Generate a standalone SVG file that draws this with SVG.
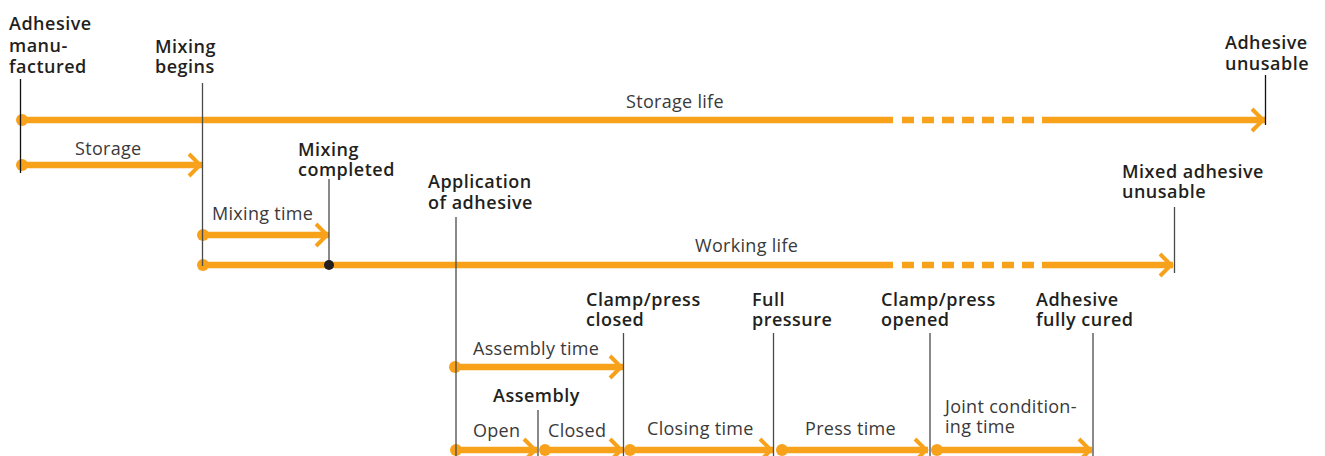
<svg xmlns="http://www.w3.org/2000/svg" width="1325" height="456" viewBox="0 0 1325 456">
<style>
.bg{fill:#ffffff}
.b{font-family:"Open Sans","Noto Sans","Liberation Sans",sans-serif;font-size:18px;font-weight:600;fill:#231f20;letter-spacing:0.5px}
.r{font-family:"Open Sans","Noto Sans","Liberation Sans",sans-serif;font-size:18px;font-weight:400;fill:#3a3a3a;letter-spacing:0.3px}
.ln{stroke:#F8A21C;stroke-width:6.5;fill:none}
.dash{stroke:#F8A21C;stroke-width:6.5;fill:none;stroke-dasharray:12 8}
.dot{fill:#F8A21C}
.tick{stroke:#4a4a4a;stroke-width:1.3;fill:none}
.tickk{stroke:#111;stroke-width:1.3;fill:none}
</style>
<defs>
<marker id="ah" markerUnits="userSpaceOnUse" markerWidth="30" markerHeight="30" viewBox="-15 -15 30 30" refX="0" refY="0" orient="auto" overflow="visible">
<path d="M-13,-11 L-2,0 L-13,11" stroke="#F8A21C" stroke-width="4" fill="none"/>
</marker>
</defs>
<rect class="bg" x="0" y="0" width="1325" height="456"/>

<g id="connectors">
<!-- Storage life -->
<line class="ln" x1="22" y1="120" x2="893" y2="120"/>
<line class="dash" x1="902" y1="120" x2="1036" y2="120"/>
<line class="ln" x1="1042" y1="120" x2="1265" y2="120" marker-end="url(#ah)"/>
<circle class="dot" cx="22" cy="120" r="6"/>
<!-- Storage -->
<line class="ln" x1="22" y1="165" x2="202" y2="165" marker-end="url(#ah)"/>
<circle class="dot" cx="22" cy="165" r="6"/>
<!-- Mixing time -->
<line class="ln" x1="203" y1="235" x2="329" y2="235" marker-end="url(#ah)"/>
<circle class="dot" cx="203" cy="235" r="6"/>
<!-- Working life -->
<line class="ln" x1="203" y1="265" x2="893" y2="265"/>
<line class="dash" x1="902" y1="265" x2="1036" y2="265"/>
<line class="ln" x1="1042" y1="265" x2="1173" y2="265" marker-end="url(#ah)"/>
<circle class="dot" cx="203" cy="265" r="6"/>
<!-- Assembly time -->
<line class="ln" x1="455" y1="367" x2="623" y2="367" marker-end="url(#ah)"/>
<circle class="dot" cx="455" cy="367" r="6"/>
<!-- Open -->
<line class="ln" x1="456" y1="450" x2="537" y2="450" marker-end="url(#ah)"/>
<circle class="dot" cx="456" cy="450" r="6"/>
<!-- Closed -->
<line class="ln" x1="545" y1="450" x2="623" y2="450" marker-end="url(#ah)"/>
<circle class="dot" cx="545" cy="450" r="6"/>
<!-- Closing time -->
<line class="ln" x1="630" y1="450" x2="773" y2="450" marker-end="url(#ah)"/>
<circle class="dot" cx="630" cy="450" r="6"/>
<!-- Press time -->
<line class="ln" x1="782" y1="450" x2="928" y2="450" marker-end="url(#ah)"/>
<circle class="dot" cx="782" cy="450" r="6"/>
<!-- Joint conditioning time -->
<line class="ln" x1="937" y1="450" x2="1092" y2="450" marker-end="url(#ah)"/>
<circle class="dot" cx="937" cy="450" r="6"/>
</g>

<g id="adhesive-manufactured">
<line class="tickk" x1="20.5" y1="79" x2="20.5" y2="173"/>
<text class="b" x="9" y="30">Adhesive<tspan x="9" y="51.5">manu-</tspan><tspan x="9" y="73">factured</tspan></text>
</g>
<g id="mixing-begins">
<line class="tick" x1="202.5" y1="83" x2="202.5" y2="266"/>
<text class="b" x="155" y="52.5">Mixing<tspan x="155" y="73">begins</tspan></text>
</g>
<g id="adhesive-unusable">
<line class="tickk" x1="1265.5" y1="75" x2="1265.5" y2="125"/>
<text class="b" x="1225" y="49">Adhesive<tspan x="1225" y="70">unusable</tspan></text>
</g>
<g id="mixing-completed">
<line class="tick" x1="329" y1="179" x2="329" y2="265"/>
<circle cx="329" cy="265" r="5" fill="#231f20"/>
<text class="b" x="298" y="156">Mixing<tspan x="298" y="176">completed</tspan></text>
</g>
<g id="application">
<line class="tick" x1="456" y1="217" x2="456" y2="456"/>
<text class="b" x="428" y="188">Application<tspan x="428" y="208.5">of adhesive</tspan></text>
</g>
<g id="mixed-unusable">
<line class="tick" x1="1174.5" y1="207" x2="1174.5" y2="273"/>
<text class="b" x="1122" y="178">Mixed adhesive<tspan x="1122" y="198">unusable</tspan></text>
</g>
<g id="clamp-closed">
<line class="tick" x1="623.5" y1="333" x2="623.5" y2="456"/>
<text class="b" x="586" y="306">Clamp/press<tspan x="586" y="326">closed</tspan></text>
</g>
<g id="full-pressure">
<line class="tick" x1="773.5" y1="333" x2="773.5" y2="456"/>
<text class="b" x="752" y="306">Full<tspan x="752" y="326">pressure</tspan></text>
</g>
<g id="clamp-opened">
<line class="tick" x1="930" y1="333" x2="930" y2="456"/>
<text class="b" x="881" y="306">Clamp/press<tspan x="881" y="326">opened</tspan></text>
</g>
<g id="fully-cured">
<line class="tick" x1="1093" y1="333" x2="1093" y2="456"/>
<text class="b" x="1036" y="306">Adhesive<tspan x="1036" y="326">fully cured</tspan></text>
</g>
<g id="assembly">
<line class="tick" x1="538" y1="410" x2="538" y2="456"/>
<text class="b" x="493" y="402">Assembly</text>
</g>

<g id="labels">
<text class="r" x="626" y="108">Storage life</text>
<text class="r" x="75" y="155">Storage</text>
<text class="r" x="212" y="220">Mixing time</text>
<text class="r" x="695" y="252">Working life</text>
<text class="r" x="473" y="355">Assembly time</text>
<text class="r" x="473" y="437">Open</text>
<text class="r" x="548" y="437">Closed</text>
<text class="r" x="647" y="435">Closing time</text>
<text class="r" x="805" y="435">Press time</text>
<text class="r" x="945" y="413">Joint condition-<tspan x="945" y="433">ing time</tspan></text>
</g>
</svg>
